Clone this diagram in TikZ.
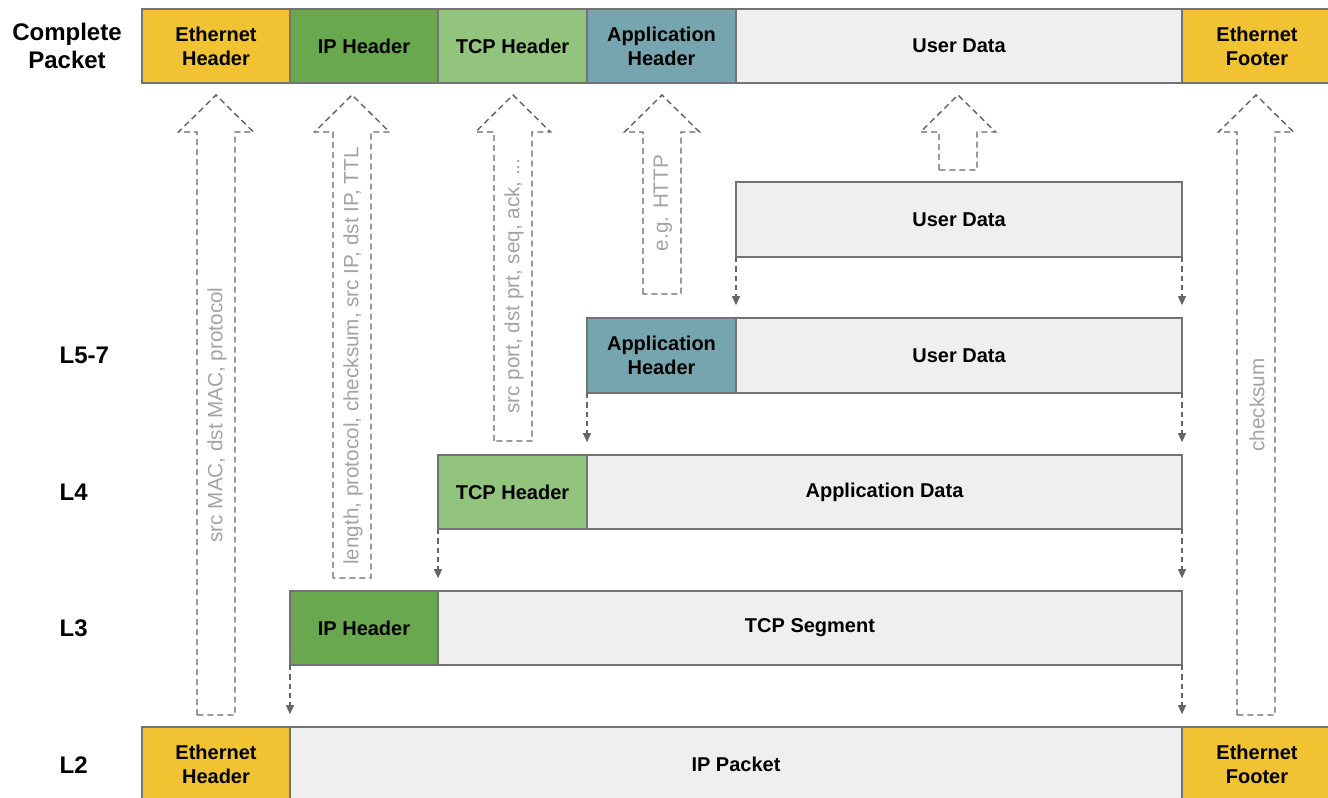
\documentclass[tikz,border=0pt]{standalone}
\usepackage{fontspec}
\setmainfont{Liberation Sans}
\usetikzlibrary{arrows.meta}
\definecolor{ethc}{HTML}{F1C232}
\definecolor{ipc}{HTML}{6AA84F}
\definecolor{tcpc}{HTML}{93C47D}
\definecolor{appc}{HTML}{76A5AF}
\definecolor{datac}{HTML}{EFEFEF}
\definecolor{edgec}{HTML}{737373}
\definecolor{dashc}{HTML}{666666}
\definecolor{notec}{HTML}{A3A3A3}
\newcommand\cellbox[7]{\node[cellnode, fill=#6,
   minimum width={(#4-#2)*0.75pt}, minimum height={(#5-#3)*0.75pt}]
   (#1) at ({(#2+#4)/2},{(#3+#5)/2}) {#7};}
\newcommand\blockarr[3]{%
  \draw[blockarrow] (#1-19,#3) -- (#1-19,#2+37) -- (#1-37.5,#2+37) -- (#1,#2)
     -- (#1+37.5,#2+37) -- (#1+19,#2+37) -- (#1+19,#3) -- cycle;}
\begin{document}
\begin{tikzpicture}[x=0.75pt,y=-0.75pt,
  cellnode/.style={draw=edgec, line width=1.1pt, inner sep=0pt, outer sep=0pt,
    font=\fontsize{15}{18}\selectfont\bfseries, align=center, text=black},
  layer/.style={font=\fontsize{18}{21}\selectfont\bfseries, align=center},
  blockarrow/.style={draw=dashc, line width=1.1pt, dash pattern=on 4.5pt off 3pt, line join=miter},
  notetext/.style={text=notec, font=\fontsize{15.5}{18}\selectfont, rotate=90, inner sep=0pt},
  downarrow/.style={draw=dashc, line width=1.1pt, dash pattern=on 4pt off 3pt,
    -{Triangle[width=6pt,length=7pt]}}]
\useasboundingbox (0,0) rectangle (1328,797);

% top: complete packet
\cellbox{t1}{142}{9}{290}{83}{ethc}{Ethernet\\Header}
\cellbox{t2}{290}{9}{438}{83}{ipc}{IP Header}
\cellbox{t3}{438}{9}{587}{83}{tcpc}{TCP Header}
\cellbox{t4}{587}{9}{736}{83}{appc}{Application\\Header}
\cellbox{t5}{736}{9}{1182}{83}{datac}{User Data}
\cellbox{t6}{1182}{9}{1332}{83}{ethc}{Ethernet\\Footer}

% user data
\cellbox{u1}{736}{182}{1182}{257}{datac}{User Data}
% L5-7
\cellbox{a1}{587}{318}{736}{393}{appc}{Application\\Header}
\cellbox{a2}{736}{318}{1182}{393}{datac}{User Data}
% L4
\cellbox{b1}{438}{455}{587}{529}{tcpc}{TCP Header}
\cellbox{b2}{587}{455}{1182}{529}{datac}{Application Data}
% L3
\cellbox{c1}{290}{591}{438}{665}{ipc}{IP Header}
\cellbox{c2}{438}{591}{1182}{665}{datac}{TCP Segment}
% L2
\cellbox{d1}{142}{727}{290}{802}{ethc}{Ethernet\\Header}
\cellbox{d2}{290}{727}{1182}{802}{datac}{IP Packet}
\cellbox{d3}{1182}{727}{1332}{802}{ethc}{Ethernet\\Footer}

% layer labels
\node[layer] (lcp) at (67,46) {Complete\\Packet};
\node[layer, anchor=west] (l57) at (55,355) {L5-7};
\node[layer, anchor=west] (l4) at (55,492) {L4};
\node[layer, anchor=west] (l3) at (55,628) {L3};
\node[layer, anchor=west] (l2) at (55,765) {L2};

% small encapsulation arrows
\draw[downarrow] (u1.south west) -- ([yshift=9.5pt]a2.north west);
\draw[downarrow] (u1.south east) -- ([yshift=9.5pt]a2.north east);
\draw[downarrow] (a1.south west) -- ([yshift=9.5pt]b2.north west);
\draw[downarrow] (a2.south east) -- ([yshift=9.5pt]b2.north east);
\draw[downarrow] (b1.south west) -- ([yshift=9.5pt]c2.north west);
\draw[downarrow] (b2.south east) -- ([yshift=9.5pt]c2.north east);
\draw[downarrow] (c1.south west) -- ([yshift=9.5pt]d2.north west);
\draw[downarrow] (c2.south east) -- ([yshift=9.5pt]d2.north east);

% block arrows
\blockarr{216}{95}{715}
\blockarr{352}{95}{578}
\blockarr{513}{95}{441}
\blockarr{662}{95}{294}
\blockarr{958}{95}{170}
\blockarr{1256}{95}{715}

\node[notetext] (n1) at (217,415) {src MAC, dst MAC, protocol};
\node[notetext] (n2) at (353,356) {length, protocol, checksum, src IP, dst IP, TTL};
\node[notetext] (n3) at (514,286) {src port, dst prt, seq, ack, ...};
\node[notetext] (n4) at (663,203) {e.g. HTTP};
\node[notetext] (n6) at (1257,405) {checksum};
\end{tikzpicture}
\end{document}
